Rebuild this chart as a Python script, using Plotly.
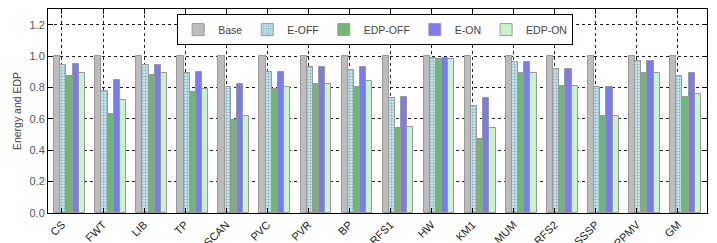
import plotly.graph_objects as go

categories = ["CS", "FWT", "LIB", "TP", "SCAN", "PVC", "PVR", "BP", "RFS1", "HW",
              "KM1", "MUM", "RFS2", "SSSP", "PPMV", "GM"]
base    = [1.0] * 16
e_off   = [0.94, 0.78, 0.94, 0.89, 0.80, 0.90, 0.93, 0.91, 0.73, 0.99, 0.68, 0.96, 0.92, 0.80, 0.97, 0.87]
edp_off = [0.87, 0.63, 0.88, 0.77, 0.59, 0.79, 0.82, 0.80, 0.54, 0.98, 0.47, 0.89, 0.81, 0.62, 0.89, 0.74]
e_on    = [0.95, 0.85, 0.94, 0.90, 0.82, 0.90, 0.93, 0.93, 0.74, 0.99, 0.73, 0.96, 0.92, 0.80, 0.97, 0.89]
edp_on  = [0.89, 0.72, 0.89, 0.79, 0.62, 0.80, 0.82, 0.84, 0.55, 0.98, 0.54, 0.89, 0.81, 0.62, 0.89, 0.76]
y_ticks = [0.0, 0.2, 0.4, 0.6, 0.8, 1.0, 1.2]

series = [
    ("Base", base, "#bcbcbc", None),
    ("E-OFF", e_off, "#c4e6ee", "."),
    ("EDP-OFF", edp_off, "#74b474", None),
    ("E-ON", e_on, "#7a7af2", None),
    ("EDP-ON", edp_on, "#c9f4c9", None),
]
bar_w = 0.15
start = -0.115

fig = go.Figure()
idx = list(range(len(categories)))
for k, (name, vals, col, pat) in enumerate(series):
    marker = dict(color=col, line=dict(color="#9a9a9a", width=1))
    if pat:
        marker["pattern"] = dict(shape=pat, fgcolor="#3d7a8a", bgcolor=col, size=3, solidity=0.35)
    fig.add_trace(go.Bar(
        x=[i + start + k * bar_w for i in idx], y=vals, width=bar_w,
        name=name, marker=marker,
    ))

axis_common = dict(showline=True, linecolor="black", linewidth=1, mirror="ticks",
                   ticks="inside", ticklen=5, tickcolor="black",
                   showgrid=True, gridcolor="#222", griddash="dot", gridwidth=1,
                   zeroline=False)

fig.update_layout(
    width=717, height=243,
    margin=dict(l=48, r=10, t=9, b=30),
    paper_bgcolor="white", plot_bgcolor="white",
    font=dict(family="Liberation Sans, Arial, sans-serif", size=11, color="#333"),
    barmode="overlay",
    bargap=0,
    legend=dict(orientation="h", x=0.196, y=0.975, xanchor="left", yanchor="top",
                bordercolor="black", borderwidth=1, bgcolor="white",
                font=dict(size=10.5, color="#444"), itemwidth=30, tracegroupgap=0),
)
fig.update_xaxes(range=[-0.34, 15.71], tickmode="array", tickvals=idx, ticktext=categories,
                 tickfont=dict(size=11, color="#222"), automargin=False, **axis_common)
fig.update_xaxes(tickangle=-45)
fig.update_yaxes(range=[0, 1.3], tickmode="array", tickvals=y_ticks,
                 ticktext=[f"{v:.1f}" for v in y_ticks],
                 tickfont=dict(size=11, color="#555"),
                 title=dict(text="Energy and EDP", font=dict(size=10.5, color="#444"), standoff=5),
                 **axis_common)

fig.write_html("out.html")
